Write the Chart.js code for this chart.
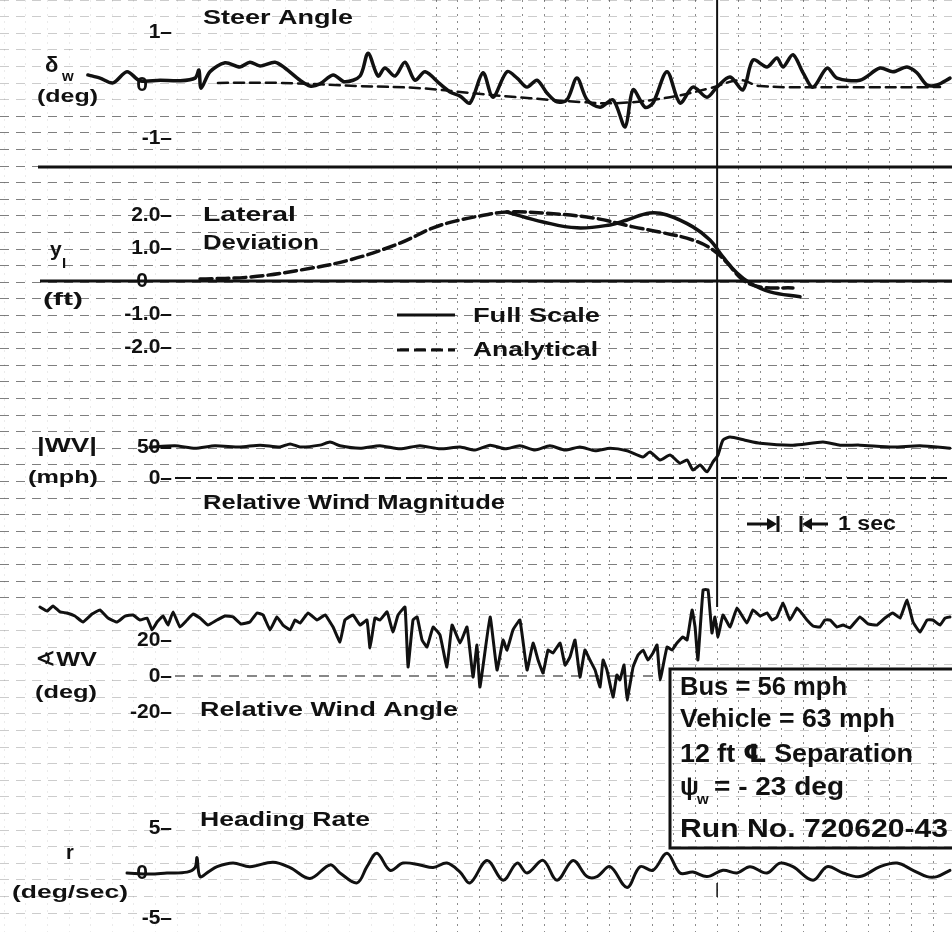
<!DOCTYPE html>
<html>
<head>
<meta charset="utf-8">
<script src="https://cdn.jsdelivr.net/npm/chart.js@4.4.1/dist/chart.umd.min.js"></script>
<style>
  html, body { margin: 0; padding: 0; background: #fff; }
  canvas { display: block; }
</style>
</head>
<body>
<canvas id="strip" width="952" height="932"></canvas>
<script>
// recorder strip: time in seconds, one grid division = 1 sec
const markerTime = 33.2;

// steer angle (deg)
const steerTime = [4.07,4.63,5.23,5.88,6.48,7.41,8.33,9.03,9.21,9.31,9.72,10.42,11.11,11.57,12.04,12.73,13.19,13.89,14.35,14.81,15.42,15.97,16.67,17.04,17.5,17.82,18.29,18.75,19.21,19.68,20.37,20.83,21.3,21.76,22.36,22.82,23.47,23.94,24.4,24.86,25.32,25.79,26.25,26.71,27.18,27.78,28.38,28.94,29.31,29.86,30.23,30.88,31.48,32.08,32.73,33.19,33.8,34.4,34.86,35.51,35.97,36.25,36.71,37.18,37.64,38.29,38.75,39.81,40.74,41.34,41.99,42.45,42.92,43.38,43.98];
const steerDeg = [0.19,0.13,0.04,0.25,0.08,0.09,0.08,0.13,0.28,-0.06,0.25,0.42,0.34,0.43,0.36,0.43,0.32,0.09,-0.02,0.02,0.19,0.06,0.17,0.60,0.17,0.32,0.17,0.43,0.09,0.25,0.02,-0.13,-0.21,-0.34,0.23,-0.23,0.25,0.13,-0.04,0.09,-0.15,-0.32,-0.28,0.13,-0.28,-0.42,-0.28,-0.79,-0.09,-0.42,-0.34,0.25,-0.34,-0.04,-0.23,-0.04,0.15,-0.09,0.47,0.34,0.51,0.34,0.57,0.23,-0.04,0.32,0.13,0.09,0.32,0.25,0.34,0.23,0.0,0.0,0.13];
const steerModelTime = [10.09,12.96,16.67,19.44,21.76,24.54,26.85,28.7,31.02,32.87,34.26,35.19,39.35,43.52];
const steerModelDeg = [0.04,0.04,-0.02,-0.06,-0.15,-0.25,-0.32,-0.34,-0.23,-0.06,0.09,-0.02,-0.04,-0.04];

// lateral deviation (ft)
const latTime = [23.47,25.14,26.71,28.24,29.03,30.09,30.88,32.08,32.87,33.47,34.12,34.72,35.65,37.04];
const latFt = [2.09,1.79,1.61,1.70,1.85,2.06,2.0,1.64,1.24,0.73,0.24,-0.06,-0.33,-0.48];
const latModelTime = [9.26,11.57,13.89,16.2,18.52,20.05,21.3,22.22,23.47,25.14,27.45,29.31,30.56,32.08,33.01,33.66,34.4,35.19,36.71];
const latModelFt = [0.06,0.12,0.33,0.64,1.15,1.61,1.85,1.97,2.09,2.06,1.91,1.64,1.48,1.24,0.94,0.55,0.03,-0.18,-0.21];

// relative wind magnitude (mph)
const windMagTime = [6.94,8.1,9.03,9.95,11.11,12.04,12.96,13.43,13.89,14.81,15.28,15.74,16.67,17.59,18.52,19.44,20.37,21.3,21.99,22.69,23.38,24.07,24.77,25.46,26.16,26.85,27.55,28.24,29.03,29.77,30.09,30.56,31.02,31.48,31.81,32.08,32.41,32.73,33.01,33.24,33.47,33.8,34.49,35.19,36.71,38.1,38.89,39.81,41.34,42.59,43.98];
const windMagMph = [50,52,48,52,50,53,50,55,50,53,58,52,48,52,47,52,47,50,45,53,47,52,45,52,45,50,44,48,44,34,42,29,37,24,29,13,21,10,26,37,61,66,61,56,53,58,53,53,50,52,48];

// relative wind angle (deg)
const windAngTime = [1.85,2.18,2.45,2.78,3.1,3.47,3.84,4.26,4.63,5.0,5.42,5.79,6.16,6.48,6.81,7.04,7.27,7.55,7.78,8.01,8.33,8.66,8.94,9.26,9.63,10.05,10.42,10.79,11.16,11.57,11.9,12.18,12.5,12.82,13.1,13.43,13.66,13.89,14.26,14.68,15.05,15.42,15.74,15.97,16.34,16.67,16.99,17.13,17.36,17.59,17.92,18.19,18.43,18.75,18.89,19.12,19.31,19.54,19.77,20.05,20.37,20.69,20.93,21.3,21.62,21.9,22.08,22.22,22.69,23.01,23.29,23.47,23.75,24.07,24.4,24.68,24.91,25.14,25.37,25.6,25.93,26.16,26.39,26.62,26.85,27.08,27.31,27.55,27.78,27.92,28.1,28.38,28.56,28.7,28.89,29.03,29.31,29.54,29.77,30.0,30.23,30.42,30.56,30.88,31.11,31.34,31.62,31.81,32.04,32.18,32.31,32.55,32.78,32.96,33.1,33.24,33.47,33.8,34.12,34.58,34.86,35.19,35.51,35.74,35.97,36.25,36.57,36.9,37.18,37.36,37.64,37.96,38.19,38.43,38.75,39.03,39.35,39.81,40.19,40.6,40.97,41.34,41.67,41.99,42.27,42.59,42.92,43.19,43.52,43.75,43.98];
const windAngDeg = [38.3,36.1,38.9,35.6,35,33.3,30,34.4,36.7,32.2,30,33.3,33.9,31.1,32.2,25.6,30,33.3,28.3,35.6,27.2,31.1,34.4,32.2,28.3,31.1,33.3,32.8,28.9,30,35,33.9,25.6,32.8,28.3,25.6,31.1,29.4,35,31.1,33.9,27.2,18.9,31.1,33.9,28.3,31.1,15.6,32.2,31.1,35.6,24.4,33.9,38.3,5,31.1,32.8,20,16.1,27.2,22.8,5,28.3,18.3,27.2,-0.6,17.2,-6.1,32.8,3.3,20,14.4,25.6,31.1,3.3,18.3,8.9,1.7,14.4,12.8,18.3,6.1,10.6,20,-0.6,14.4,8.9,3.3,-6.1,8.9,3.3,-11.7,0.6,-2.2,6.1,-13.3,5,11.7,14.4,8.9,12.8,17.2,-2.2,16.1,14.4,18.3,21.7,20,36.7,27.2,8.9,47.8,47.8,23.9,32.8,21.7,33.9,27.2,37.8,29.4,36.7,33.3,35,31.1,32.8,40.6,31.1,37.8,33.9,31.1,27.8,27.2,31.1,31.1,27.2,28.3,26.7,32.8,28.9,28.3,32.2,35,32.2,42.2,30,24.4,31.1,31.1,28.3,32.2,32.8];

// heading rate (deg/sec)
const headTime = [5.88,6.94,7.73,8.66,9.03,9.12,9.26,9.63,10.05,10.79,11.57,12.64,13.43,14.35,15.28,15.74,16.53,16.99,17.45,18.06,18.66,19.44,20.05,20.69,21.3,21.76,22.55,23.29,23.94,24.4,25.14,25.79,26.53,27.18,27.64,28.24,29.03,29.63,30.23,30.88,31.48,32.08,32.73,33.47,34.12,34.72,35.51,36.11,36.71,37.64,38.29,39.03,39.81,40.74,41.53,42.27,42.92,43.38,43.98];
const headRate = [0,-0.1,0,0.1,0.6,1.7,-0.4,0.1,0.7,1.1,0.7,1.2,0.6,-0.6,0.9,0,-1.1,0.7,2.2,0.3,1.1,0.9,0.6,1.1,0.1,-1.1,1.4,-0.8,1.1,0,1.4,-0.8,1.4,-0.4,-0.4,0.7,-1.6,0.7,0.3,2.2,0,0.1,-0.4,0.3,0,0.7,0,1.1,0.7,-0.8,0.7,0,-0.4,0.7,1.1,0.3,-0.4,-0.4,0.3];

// tick labels on each trace
const steerTicks = [1, 0, -1];
const steerTickText = ['1–', '0', '-1–'];
const latTicks = [2, 1, 0, -1, -2];
const latTickText = ['2.0–', '1.0–', '0', '-1.0–', '-2.0–'];
const magTicks = [50, 0];
const magTickText = ['50–', '0–'];
const angTicks = [20, 0, -20];
const angTickText = ['20–', '0–', '-20–'];
const headTicks = [5, 0, -5];
const headTickText = ['5–', '0', '-5–'];

const runInfo = ['Bus = 56 mph', 'Vehicle = 63 mph', '12 ft ℄ Separation', '= - 23 deg', 'Run No. 720620-43'];

const H = 932;
const INK = '#111';
const FONT = '"Liberation Sans", "DejaVu Sans", sans-serif';

// each trace gets its own hidden axis, placed by its zero line and px per unit
function band(zeroPx, pxPerUnit) {
  return { type: 'linear', display: false, min: -(H - zeroPx) / pxPerUnit, max: zeroPx / pxPerUnit };
}

function trace(t, v, axis, width, dash, tension) {
  return {
    data: t.map((x, i) => ({ x: x, y: v[i] })),
    yAxisID: axis,
    borderColor: INK,
    borderWidth: width,
    borderDash: dash || [],
    borderJoinStyle: 'round',
    borderCapStyle: 'round',
    pointRadius: 0,
    tension: tension,
    fill: false
  };
}

const secTicks = [];
for (let s = 0.2; s < 44; s += 1) secTicks.push(s);

function put(c, str, x, y, size, width, align) {
  c.font = 'bold ' + size + 'px ' + FONT;
  c.textBaseline = 'middle';
  c.textAlign = 'left';
  const w = c.measureText(str).width;
  const sx = width ? width / w : 1;
  const left = align === 'right' ? x - w * sx : x;
  c.save();
  c.translate(left, y);
  c.scale(sx, 1);
  c.fillText(str, 0, 0);
  c.restore();
}

function seg(c, x1, y1, x2, y2, w, dash) {
  c.beginPath();
  c.lineWidth = w;
  c.setLineDash(dash || []);
  c.moveTo(x1, y1);
  c.lineTo(x2, y2);
  c.stroke();
  c.setLineDash([]);
}

const overlay = {
  id: 'overlay',
  beforeDatasetsDraw(chart) {
    const c = chart.ctx;
    const s = chart.scales;
    c.save();
    c.strokeStyle = INK;
    // panel separator and lateral zero line
    seg(c, 38, s.gy.getPixelForValue(167), 952, s.gy.getPixelForValue(167), 3);
    const yl = s.yLat.getPixelForValue(0);
    seg(c, 40, yl, 952, yl, 3);
    // dashed zero lines
    const ym = s.yMag.getPixelForValue(0);
    seg(c, 175, ym, 952, ym, 2, [16, 5]);
    const ya = s.yAng.getPixelForValue(0);
    seg(c, 175, ya, 660, ya, 1.2, [10, 8]);
    // event marker
    const xm = s.x.getPixelForValue(markerTime);
    seg(c, xm, 0, xm, 607, 2);
    seg(c, xm, 883, xm, 897, 1.5);
    c.restore();
  },
  afterDraw(chart) {
    const c = chart.ctx;
    const s = chart.scales;
    c.save();
    c.fillStyle = INK;
    c.strokeStyle = INK;

    // tick labels, placed through each trace's axis
    const tickSets = [
      [s.ySteer, steerTicks, steerTickText],
      [s.yLat, latTicks, latTickText],
      [s.yMag, magTicks, magTickText],
      [s.yAng, angTicks, angTickText],
      [s.yHead, headTicks, headTickText]
    ];
    tickSets.forEach(([axis, vals, txt]) => {
      vals.forEach((v, i) => {
        const label = txt[i];
        const right = label.endsWith('–') ? 172 : 148;
        put(c, label, right, axis.getPixelForValue(v), 21, 0, 'right');
      });
    });

    // titles and units
    put(c, 'Steer Angle', 203, 18, 21, 150);
    put(c, 'δ', 45, 66, 22);
    put(c, 'w', 62, 77, 15);
    put(c, '(deg)', 37, 97, 19, 61);
    put(c, 'Lateral', 203, 215, 21, 93);
    put(c, 'Deviation', 203, 243, 21, 116);
    put(c, 'y', 50, 250, 21);
    put(c, 'I', 62, 264, 15);
    put(c, '(ft)', 43, 300, 19, 40);
    put(c, '|WV|', 37, 446, 20, 60);
    put(c, '(mph)', 28, 478, 19, 70);
    put(c, 'Relative Wind Magnitude', 203, 503, 21, 302);
    put(c, '∢WV', 35, 660, 21, 62);
    put(c, '(deg)', 35, 693, 19, 62);
    put(c, 'Relative Wind Angle', 200, 710, 21, 258);
    put(c, 'Heading Rate', 200, 820, 21, 170);
    put(c, 'r', 66, 853, 20);
    put(c, '(deg/sec)', 12, 893, 19, 116);

    // legend
    seg(c, 397, 315, 455, 315, 3);
    seg(c, 397, 350, 455, 350, 3, [12, 5]);
    put(c, 'Full Scale', 473, 316, 21, 127);
    put(c, 'Analytical', 473, 350, 21, 125);

    // one-second scale bar
    seg(c, 747, 524, 772, 524, 3);
    seg(c, 778, 516, 778, 532, 3);
    seg(c, 801, 516, 801, 532, 3);
    seg(c, 807, 524, 828, 524, 3);
    c.beginPath();
    c.moveTo(777, 524); c.lineTo(767, 518); c.lineTo(767, 530); c.closePath(); c.fill();
    c.beginPath();
    c.moveTo(802, 524); c.lineTo(812, 518); c.lineTo(812, 530); c.closePath(); c.fill();
    put(c, '1 sec', 838, 524, 20, 58);

    // run info box
    c.lineWidth = 3;
    c.strokeRect(670, 669, 290, 179);
    put(c, runInfo[0], 680, 688, 25, 167);
    put(c, runInfo[1], 680, 720, 25, 215);
    put(c, runInfo[2], 680, 755, 25, 233);
    put(c, 'ψ', 680, 788, 25);
    put(c, 'w', 697, 800, 15);
    put(c, runInfo[3], 714, 788, 25, 130);
    put(c, runInfo[4], 680, 830, 25, 268);
    c.restore();
  }
};

new Chart(document.getElementById('strip').getContext('2d'), {
  type: 'line',
  data: {
    datasets: [
      trace(steerTime, steerDeg, 'ySteer', 3.5, null, 0.3),
      trace(steerModelTime, steerModelDeg, 'ySteer', 2.5, [10, 6], 0.4),
      trace(latModelTime, latModelFt, 'yLat', 3.5, [12, 5], 0.4),
      trace(latTime, latFt, 'yLat', 3.5, null, 0.4),
      trace(windMagTime, windMagMph, 'yMag', 3, null, 0.2),
      trace(windAngTime, windAngDeg, 'yAng', 3, null, 0.1),
      trace(headTime, headRate, 'yHead', 3, null, 0.35)
    ]
  },
  options: {
    responsive: false,
    animation: false,
    events: [],
    layout: { padding: 0 },
    plugins: { legend: { display: false }, tooltip: { enabled: false } },
    scales: {
      x: {
        type: 'linear',
        min: 0,
        max: 952 / 21.6,
        afterBuildTicks: axis => { axis.ticks = secTicks.map(v => ({ value: v })); },
        ticks: { display: false },
        grid: {
          drawTicks: false,
          lineWidth: 1,
          color: ctx => (ctx.tick && ctx.tick.value > 20 ? 'rgba(0,0,0,0.45)' : 'rgba(0,0,0,0.08)')
        },
        border: { display: false, dash: [2, 5] }
      },
      gy: {
        type: 'linear',
        position: 'left',
        reverse: true,
        min: 0,
        max: H,
        ticks: { display: false, stepSize: 16.6 },
        grid: {
          drawTicks: false,
          lineWidth: 1,
          color: ctx => {
            const v = ctx.tick ? ctx.tick.value : 0;
            return v > 100 && v < 610 ? 'rgba(0,0,0,0.5)' : 'rgba(0,0,0,0.2)';
          }
        },
        border: { display: false, dash: [9, 7] }
      },
      ySteer: band(85, 53),
      yLat: band(281, 33),
      yMag: band(478, 0.62),
      yAng: band(676, 1.8),
      yHead: band(873, 9)
    }
  },
  plugins: [overlay]
});
</script>
</body>
</html>
